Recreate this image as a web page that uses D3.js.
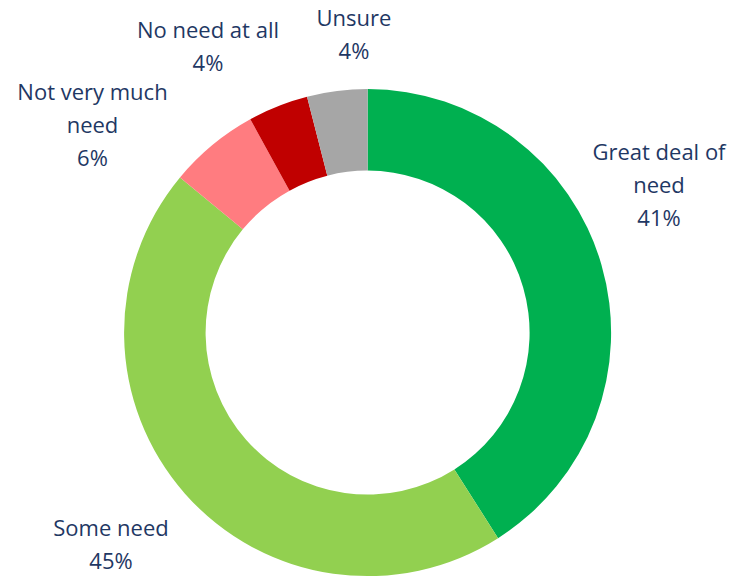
<!DOCTYPE html>
<html>
<head>
<meta charset="utf-8">
<script src="https://cdn.jsdelivr.net/npm/d3@7"></script>
<style>
  html, body { margin: 0; padding: 0; background: #ffffff; }
  svg { display: block; }
</style>
</head>
<body>
<svg id="chart" width="731" height="577"></svg>
<script>
// Survey responses, clockwise from 12 o'clock
const categories = ["Great deal of need", "Some need", "Not very much need", "No need at all", "Unsure"];
const values = [41, 45, 6, 4, 4];
const sliceColors = ["#00B050", "#92D050", "#FF7C80", "#C00000", "#A6A6A6"];
// Label text broken into lines as shown beside each slice
const labelLines = [
  ["Great deal of", "need"],
  ["Some need"],
  ["Not very much", "need"],
  ["No need at all"],
  ["Unsure"]
];

// Layout
const width = 731, height = 577;
const cx = 367.6, cy = 332.6;
const outerR = 243.5, innerR = 162;
const lineH = 33;
const fontSize = 22;
// Label anchor: centre x and baseline y of the first line
const labelAnchors = [
  [659, 160],
  [111, 536],
  [92.5, 100],
  [208, 38],
  [354, 26]
];

const svg = d3.select("#chart");
const g = svg.append("g").attr("transform", `translate(${cx},${cy})`);

const pie = d3.pie().sort(null).value(d => d.value);
const arcs = pie(categories.map((c, i) => ({ name: c, value: values[i] })));
const arc = d3.arc().innerRadius(innerR).outerRadius(outerR);
const color = d3.scaleOrdinal().domain(categories).range(sliceColors);

g.selectAll("path.slice")
  .data(arcs)
  .join("path")
  .attr("class", "slice")
  .attr("d", arc)
  .attr("fill", d => color(d.data.name));

// Data labels: category name lines followed by the percentage
const labels = svg.selectAll("text.label")
  .data(arcs)
  .join("text")
  .attr("class", "label")
  .attr("text-anchor", "middle")
  .attr("font-family", "'Open Sans', Lato, sans-serif")
  .attr("font-size", fontSize)
  .attr("fill", "#1F3864");

labels.each(function(d, i) {
  const t = d3.select(this);
  const [x, y] = labelAnchors[i];
  const lines = labelLines[i].concat([d.data.value + "%"]);
  lines.forEach((ln, k) => {
    t.append("tspan").attr("x", x).attr("y", y + k * lineH).text(ln);
  });
});
</script>
</body>
</html>
